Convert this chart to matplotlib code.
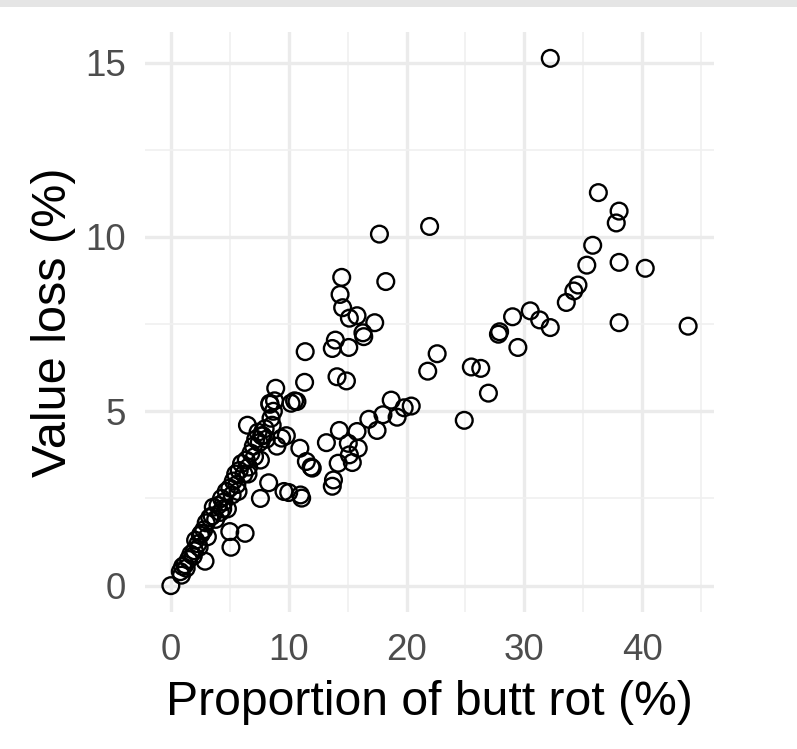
import matplotlib
matplotlib.use("Agg")
import matplotlib.pyplot as plt
from matplotlib.patches import Rectangle

# Proportion of butt rot (%) and value loss (%)
butt_rot = [
    0.0, 0.8, 0.9, 1.0, 1.2, 1.3, 1.5, 1.7, 1.9, 2.0, 2.1, 2.3, 2.4, 2.5, 2.6, 2.8,
    2.9, 3.0, 3.1, 3.3, 3.5, 3.6, 3.8, 4.0, 4.2, 4.3, 4.4, 4.5, 4.7, 4.8, 5.0, 5.0,
    5.1, 5.2, 5.3, 5.5, 5.6, 5.7, 5.8, 6.0, 6.2, 6.3, 6.4, 6.5, 6.55, 6.6, 6.8, 7.0,
    7.1, 7.2, 7.4, 7.5, 7.6, 7.6, 7.7, 7.8, 8.0, 8.1, 8.3, 8.4, 8.5, 8.6, 8.7, 8.8,
    8.9, 8.4, 9.0, 9.4, 9.6, 9.8, 10.0, 10.2, 10.5, 10.7, 10.95, 11.1, 11.35, 11.4,
    11.5, 11.9, 11.0, 12.0, 13.2, 13.7, 13.8, 13.7, 13.96, 14.1, 14.2, 14.3, 14.36,
    14.5, 14.58, 14.9, 15.06, 15.1, 15.15, 15.15, 15.4, 15.8, 15.8, 15.9, 16.3, 16.37,
    16.8, 17.3, 17.5, 17.7, 18.0, 18.24, 18.7, 19.2, 19.8, 20.4, 21.8, 21.96, 22.6,
    24.9, 25.5, 26.3, 26.95, 27.8, 27.9, 29.0, 29.45, 30.5, 31.3, 32.2, 32.2, 33.56,
    34.2, 34.55, 35.3, 35.8, 36.28, 37.8, 38.04, 38.04, 38.04, 40.26, 43.9,
]
value_loss = [
    0.0, 0.4, 0.3, 0.55, 0.6, 0.5, 0.75, 0.9, 0.85, 1.0, 1.3, 1.2, 1.1, 1.45, 1.5, 1.6,
    0.7, 1.8, 1.4, 1.95, 2.0, 2.25, 1.9, 2.3, 2.1, 2.5, 2.2, 2.4, 2.7, 2.2, 2.8, 1.55,
    1.1, 2.6, 3.0, 3.2, 2.9, 2.7, 3.3, 3.5, 3.2, 1.5, 3.6, 4.6, 3.2, 3.4, 3.8, 4.0,
    3.7, 4.2, 4.4, 4.1, 3.6, 2.5, 4.3, 4.3, 4.5, 4.2, 2.95, 5.2, 4.8, 4.6, 5.0, 5.3,
    5.66, 5.23, 4.0, 4.23, 2.7, 4.3, 2.67, 5.23, 5.3, 5.28, 3.94, 2.51, 5.83, 6.71,
    3.56, 3.4, 2.6, 3.37, 4.1, 2.85, 3.03, 6.8, 7.04, 5.99, 3.51, 4.45, 8.35,
    8.84, 7.97, 5.87, 4.08, 6.83, 7.67, 3.75, 3.53, 7.74, 4.42, 3.94, 7.25, 7.14,
    4.77, 7.54, 4.45, 10.08, 4.9, 8.72, 5.32, 4.83, 5.1, 5.15, 6.15, 10.3, 6.65,
    4.74, 6.27, 6.23, 5.52, 7.21, 7.28, 7.71, 6.83, 7.88, 7.62, 15.12, 7.4, 8.12,
    8.45, 8.62, 9.19, 9.76, 11.27, 10.4, 10.74, 9.27, 7.54, 9.1, 7.44,
]
x_ticks = [0, 10, 20, 30, 40]
y_ticks = [0, 5, 10, 15]

W, H = 797, 749
fig = plt.figure(figsize=(W / 100, H / 100), dpi=100)
fig.patch.set_facecolor("white")
fig.add_artist(Rectangle((0, 1 - 7 / H), 1, 7 / H, transform=fig.transFigure,
                         facecolor="#e5e5e5", edgecolor="none"))

ax = fig.add_axes([145 / W, 1 - 612 / H, (714 - 145) / W, (612 - 32) / H])
ax.set_facecolor("white")
ax.scatter(butt_rot, value_loss, s=145, facecolors="none", edgecolors="black",
           linewidths=1.7, zorder=3)

xr = max(butt_rot) - min(butt_rot)
yr = max(value_loss) - min(value_loss)
ax.set_xlim(min(butt_rot) - 0.05 * xr, max(butt_rot) + 0.05 * xr)
ax.set_ylim(min(value_loss) - 0.05 * yr, max(value_loss) + 0.05 * yr)
ax.set_xticks(x_ticks)
ax.set_yticks(y_ticks)
ax.set_xticks([5, 15, 25, 35, 45], minor=True)
ax.set_yticks([2.5, 7.5, 12.5], minor=True)
ax.grid(which="major", color="#ebebeb", linewidth=2.4, zorder=0)
ax.grid(which="minor", color="#f0f0f0", linewidth=1.2, zorder=0)
for s in ax.spines.values():
    s.set_visible(False)
ax.tick_params(which="both", length=0)
ax.tick_params(axis="x", labelsize=26.5, labelcolor="#4d4d4d", pad=15)
ax.tick_params(axis="y", labelsize=26.5, labelcolor="#4d4d4d", pad=14)
for lab in ax.get_xticklabels() + ax.get_yticklabels():
    lab.set_family("Liberation Sans")
ax.set_xlabel("Proportion of butt rot (%)", fontsize=34.7, family="Liberation Sans",
              labelpad=9)
ax.set_ylabel("Value loss (%)", fontsize=35, family="Liberation Sans", labelpad=6)

fig.savefig("out.png", dpi=100)
